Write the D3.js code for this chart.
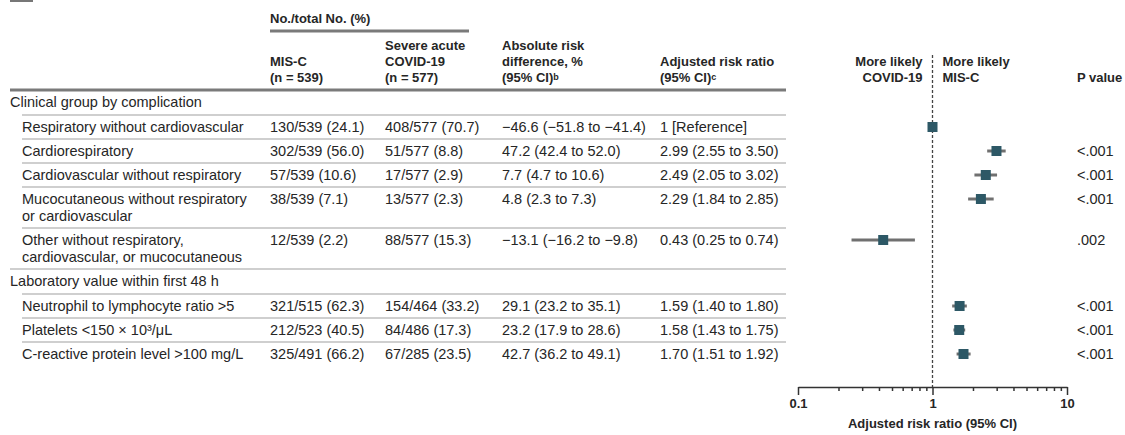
<!DOCTYPE html>
<html>
<head>
<meta charset="utf-8">
<script src="https://cdn.jsdelivr.net/npm/d3@7"></script>
<style>
  body { margin: 0; background: #fff; }
  svg { display: block; }
  text { font-family: "Liberation Sans", Arial, sans-serif; fill: #262626; }
  .body { font-size: 14.5px; }
  .head { font-size: 13px; font-weight: bold; }
  .axis text { font-family: "Liberation Sans", Arial, sans-serif; font-size: 13px; font-weight: bold; fill: #262626; }
  .axis path, .axis line { stroke: #333; stroke-width: 1.5; }
</style>
</head>
<body>
<svg id="chart"></svg>
<script>
// data
const groupLabels = ["Clinical group by complication", "Laboratory value within first 48 h"];
const rowGroup = [0, 0, 0, 0, 0, 1, 1, 1];
const rowLabels = [
  ["Respiratory without cardiovascular"],
  ["Cardiorespiratory"],
  ["Cardiovascular without respiratory"],
  ["Mucocutaneous without respiratory", "or cardiovascular"],
  ["Other without respiratory,", "cardiovascular, or mucocutaneous"],
  ["Neutrophil to lymphocyte ratio >5"],
  ["Platelets <150 × 10³/μL"],
  ["C-reactive protein level >100 mg/L"]
];
const miscCounts = ["130/539 (24.1)", "302/539 (56.0)", "57/539 (10.6)", "38/539 (7.1)", "12/539 (2.2)", "321/515 (62.3)", "212/523 (40.5)", "325/491 (66.2)"];
const covidCounts = ["408/577 (70.7)", "51/577 (8.8)", "17/577 (2.9)", "13/577 (2.3)", "88/577 (15.3)", "154/464 (33.2)", "84/486 (17.3)", "67/285 (23.5)"];
const riskDiff = ["−46.6 (−51.8 to −41.4)", "47.2 (42.4 to 52.0)", "7.7 (4.7 to 10.6)", "4.8 (2.3 to 7.3)", "−13.1 (−16.2 to −9.8)", "29.1 (23.2 to 35.1)", "23.2 (17.9 to 28.6)", "42.7 (36.2 to 49.1)"];
const rrText = ["1 [Reference]", "2.99 (2.55 to 3.50)", "2.49 (2.05 to 3.02)", "2.29 (1.84 to 2.85)", "0.43 (0.25 to 0.74)", "1.59 (1.40 to 1.80)", "1.58 (1.43 to 1.75)", "1.70 (1.51 to 1.92)"];
const rr = [1, 2.99, 2.49, 2.29, 0.43, 1.59, 1.58, 1.70];
const rrLow = [null, 2.55, 2.05, 1.84, 0.25, 1.40, 1.43, 1.51];
const rrHigh = [null, 3.50, 3.02, 2.85, 0.74, 1.80, 1.75, 1.92];
const pValues = ["", "<.001", "<.001", "<.001", ".002", "<.001", "<.001", "<.001"];
const majorTicks = [0.1, 1, 10];
const minorTicks = [0.2, 0.3, 0.4, 0.5, 0.6, 0.7, 0.8, 0.9, 2, 3, 4, 5, 6, 7, 8, 9];

const width = 1125, height = 435;
const svg = d3.select("#chart").attr("width", width).attr("height", height);

const col = { group: 10, label: 22, misc: 270, covid: 385, diff: 502, rr: 660, p: 1077 };
const tableRight = 786;
const headTop = 90;
const axisY = 387;
const x = d3.scaleLog().domain([0.1, 10]).range([798, 1067]);

// little clipped box at the top left
svg.append("rect").attr("x", 10).attr("y", 0).attr("width", 23).attr("height", 2).attr("fill", "#777");

// column headers
function headLines(xPos, lines, anchor) {
  const t = svg.append("text").attr("class", "head").attr("text-anchor", anchor || "start");
  lines.forEach((l, i) => {
    const y = 77 - (lines.length - 1 - i) * 16;
    const isObj = typeof l === "object";
    t.append("tspan").attr("x", xPos).attr("y", y).attr("dy", "0.35em").text(isObj ? l.text : l);
    if (isObj) t.append("tspan").attr("font-size", 9).attr("dy", "-0.2em").text(l.sup);
  });
}
svg.append("text").attr("class", "head").attr("x", col.misc).attr("y", 18).attr("dy", "0.35em").text("No./total No. (%)");
svg.append("line").attr("x1", col.misc).attr("x2", 469).attr("y1", 31).attr("y2", 31)
  .attr("stroke", "#7a7a7a").attr("stroke-width", 3);
headLines(col.misc, ["MIS-C", "(n = 539)"]);
headLines(col.covid, ["Severe acute", "COVID-19", "(n = 577)"]);
headLines(col.diff, ["Absolute risk", "difference, %", { text: "(95% CI)", sup: "b" }]);
headLines(col.rr, ["Adjusted risk ratio", { text: "(95% CI)", sup: "c" }]);
headLines(x(1) - 10, ["More likely", "COVID-19"], "end");
headLines(x(1) + 10, ["More likely", "MIS-C"]);
headLines(col.p, ["P value"]);
svg.append("line").attr("x1", col.group).attr("x2", tableRight).attr("y1", headTop).attr("y2", headTop)
  .attr("stroke", "#7a7a7a").attr("stroke-width", 3);

// build the row layout from the arrays
const layout = [];
let rowTop = headTop;
groupLabels.forEach((g, gi) => {
  layout.push({ type: "group", label: g, top: rowTop, h: 25 });
  rowTop += 25;
  rowGroup.forEach((rg, i) => {
    if (rg !== gi) return;
    const h = rowLabels[i].length > 1 ? 41 : 24;
    layout.push({ type: "row", i: i, top: rowTop, h: h });
    rowTop += h;
  });
});

layout.forEach((r, k) => {
  const cy = r.top + 12;
  if (r.type === "group") {
    svg.append("text").attr("class", "body").attr("x", col.group).attr("y", cy).attr("dy", "0.35em").text(r.label);
  } else {
    const i = r.i;
    const t = svg.append("text").attr("class", "body");
    rowLabels[i].forEach((l, j) => {
      t.append("tspan").attr("x", col.label).attr("y", cy + j * 17).attr("dy", "0.35em").text(l);
    });
    [[col.misc, miscCounts[i]], [col.covid, covidCounts[i]], [col.diff, riskDiff[i]], [col.rr, rrText[i]], [col.p, pValues[i]]]
      .forEach(([cx, s]) => {
        svg.append("text").attr("class", "body").attr("x", cx).attr("y", cy).attr("dy", "0.35em").text(s);
      });
    r.cy = cy;
  }
  // separator under each row except the last
  const next = layout[k + 1];
  if (next) {
    const startX = next.type === "group" ? col.group : col.label;
    svg.append("line").attr("x1", startX).attr("x2", tableRight)
      .attr("y1", r.top + r.h).attr("y2", r.top + r.h)
      .attr("stroke", "#cfcfcf").attr("stroke-width", 2);
  }
});

// forest plot
svg.append("line").attr("x1", x(1)).attr("x2", x(1)).attr("y1", 55).attr("y2", axisY)
  .attr("stroke", "#444").attr("stroke-width", 1.3).attr("stroke-dasharray", "3,2");

const rows = layout.filter(r => r.type === "row");
svg.append("g").selectAll("line")
  .data(rows.filter(r => rrLow[r.i] != null)).enter()
  .append("line")
  .attr("x1", r => x(rrLow[r.i])).attr("x2", r => x(rrHigh[r.i]))
  .attr("y1", r => r.cy).attr("y2", r => r.cy)
  .attr("stroke", "#707070").attr("stroke-width", 3);
const sq = 10;
svg.append("g").selectAll("rect")
  .data(rows).enter()
  .append("rect")
  .attr("x", r => x(rr[r.i]) - sq / 2).attr("y", r => r.cy - sq / 2)
  .attr("width", sq).attr("height", sq)
  .attr("fill", "#2d5866");

// axis
svg.append("g").attr("class", "axis").attr("transform", `translate(0,${axisY})`)
  .call(d3.axisBottom(x).tickValues(minorTicks).tickSize(4).tickFormat(""))
  .call(g => g.select(".domain").remove());
svg.append("g").attr("class", "axis").attr("transform", `translate(0,${axisY})`)
  .call(d3.axisBottom(x).tickValues(majorTicks).tickSize(8).tickSizeOuter(0).tickPadding(4).tickFormat(d3.format("~g")));
svg.append("text").attr("class", "head").attr("x", x(1)).attr("y", 423).attr("dy", "0.35em")
  .attr("text-anchor", "middle").text("Adjusted risk ratio (95% CI)");
</script>
</body>
</html>
